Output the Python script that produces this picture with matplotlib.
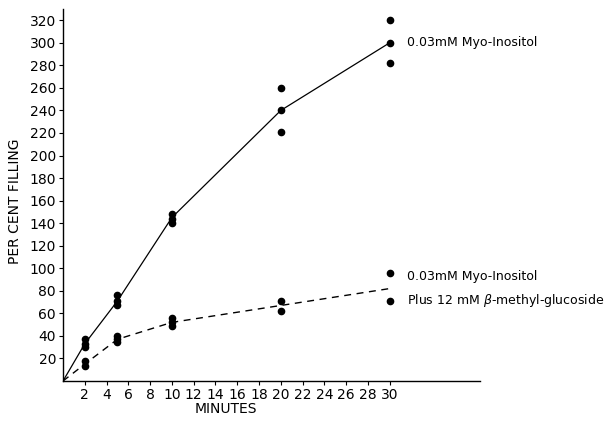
import matplotlib
matplotlib.use("Agg")
import matplotlib.pyplot as plt

# Myo-inositol alone (solid)
t_pts_a = [2, 2, 2, 5, 5, 5, 10, 10, 10, 20, 20, 20, 30, 30, 30]
v_pts_a = [30, 33, 37, 67, 71, 76, 140, 144, 148, 221, 240, 260, 282, 300, 320]
t_line_a = [0, 2, 5, 10, 20, 30]
v_line_a = [0, 33, 71, 145, 240, 300]

# Myo-inositol plus beta-methyl-glucoside (dashed)
t_pts_b = [2, 2, 5, 5, 5, 10, 10, 10, 20, 20, 30, 30]
v_pts_b = [13, 18, 35, 37, 40, 49, 52, 56, 62, 71, 71, 96]
t_line_b = [0, 2, 5, 10, 20, 30]
v_line_b = [0, 15, 37, 52, 67, 82]

xticks = list(range(2, 31, 2))
yticks = list(range(20, 321, 20))

label_a = "0.03mM Myo-Inositol"
label_b1 = "0.03mM Myo-Inositol"
label_b2 = "Plus 12 mM $\\beta$-methyl-glucoside"

plt.rcParams['font.family'] = ['DejaVu Sans']
fig = plt.figure(figsize=(6.06, 4.21), dpi=100)
ax = fig.add_axes([63/606, 40/421, 417/606, 372/421])

ax.plot(t_line_a, v_line_a, color='black', lw=0.9, ls='-')
ax.plot(t_pts_a, v_pts_a, 'o', color='black', ms=4.5)
ax.plot(t_line_b, v_line_b, color='black', lw=1.0, ls=(0, (5, 4)))
ax.plot(t_pts_b, v_pts_b, 'o', color='black', ms=4.5)

ax.set_xlim(0, 38.3)
ax.set_ylim(0, 330)
ax.set_xticks(xticks)
ax.set_yticks(yticks)
ax.tick_params(direction='out', length=3, width=0.8, labelsize=10, pad=2)
for s in ['top', 'right']:
    ax.spines[s].set_visible(False)
for s in ['left', 'bottom']:
    ax.spines[s].set_linewidth(1.0)

ax.text(15, -25, "MINUTES", ha='center', va='center', fontsize=10)
fig.text(15/606, 1 - 201/421, "PER CENT FILLING", rotation=90,
         ha='center', va='center', fontsize=10)

ax.text(31.6, 300, label_a, ha='left', va='center', fontsize=9)
ax.text(31.6, 93, label_b1, ha='left', va='center', fontsize=9)
ax.text(31.6, 71, label_b2, ha='left', va='center', fontsize=9)

fig.savefig("out.png", dpi=100)
